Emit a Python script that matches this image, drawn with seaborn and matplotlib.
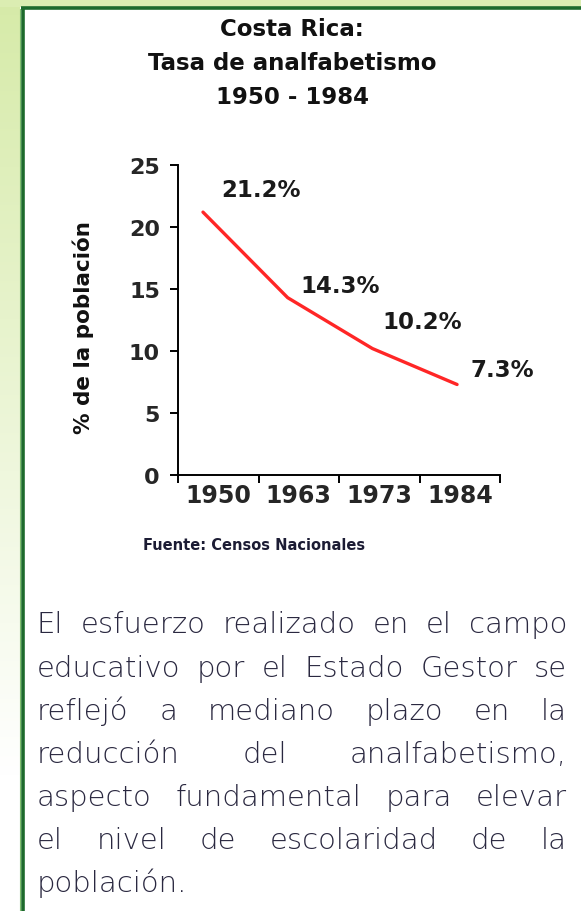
import numpy as np
import pandas as pd
import matplotlib.pyplot as plt
import seaborn as sns

# values
years = ["1950", "1963", "1973", "1984"]
rates = [21.2, 14.3, 10.2, 7.3]
rate_labels = ["21.2%", "14.3%", "10.2%", "7.3%"]
y_ticks = [0, 5, 10, 15, 20, 25]

title_text = "Costa Rica:\nTasa de analfabetismo\n1950 - 1984"
source_text = "Fuente: Censos Nacionales"
paragraph_lines = [
    "El esfuerzo realizado en el campo",
    "educativo por el Estado Gestor se",
    "reflejó a mediano plazo en la",
    "reducción del analfabetismo,",
    "aspecto fundamental para elevar",
    "el nivel de escolaridad de la",
    "población.",
]

df = pd.DataFrame({"year": years, "rate": rates})
df["pos"] = np.arange(len(df))

sns.set_theme(style="ticks")
plt.rcParams["font.family"] = ["DejaVu Sans"]

W, H = 581, 912
fig = plt.figure(figsize=(W / 100, H / 100), dpi=100)
fig.patch.set_facecolor("white")

# background: light green gradient strip on the left and top, then the green frame
bg = fig.add_axes([0, 0, 1, 1], zorder=-5)
img = np.ones((H, W, 3))
green = np.array([0.84, 0.92, 0.66])
fade = np.clip(1 - np.arange(H) / (H * 0.85), 0, 1)[:, None, None]
img[:, :20, :] = 1 - (1 - green) * fade
img[:8, :, :] = np.array([0.86, 0.93, 0.70])
bg.imshow(img, aspect="auto", extent=[0, W, H, 0])
bg.set_xlim(0, W)
bg.set_ylim(H, 0)
bg.plot([22.5, 22.5], [8.5, H], color="#1d6a2c", lw=2.6, solid_capstyle="butt")
bg.plot([21, W], [9, 9], color="#1d6a2c", lw=2.6, solid_capstyle="butt")
bg.plot([19.5, 19.5], [10, H], color="#7fbf6f", lw=0.8)
bg.axis("off")

# main chart
ax = fig.add_axes([178 / W, 1 - 476 / H, 322 / W, 310 / H])
ax.set_facecolor("none")
sns.lineplot(data=df, x="pos", y="rate", color="#ff2626", lw=2.4, ax=ax)

x_lo, x_hi = -0.295, 3.507
ax.set_xlim(x_lo, x_hi)
ax.set_ylim(0, 25)
edges = np.linspace(x_lo, x_hi, len(years) + 1)
ax.set_xticks(edges)
ax.set_xticklabels([])
ax.set_xticks((edges[:-1] + edges[1:]) / 2, minor=True)
ax.set_xticklabels(years, minor=True, fontsize=17, fontweight="bold")
ax.tick_params(axis="x", which="major", length=6, width=1.4, direction="out", color="black")
ax.tick_params(axis="x", which="minor", length=0, pad=6)
ax.set_yticks(y_ticks)
ax.set_yticklabels([str(t) for t in y_ticks], fontsize=16, fontweight="bold")
ax.tick_params(axis="y", length=6, width=1.4, pad=7, color="black")
sns.despine(ax=ax)
for s in ["left", "bottom"]:
    ax.spines[s].set_linewidth(1.4)
    ax.spines[s].set_color("black")
ax.set_xlabel("")
ax.set_ylabel("% de la población", fontsize=15.5, fontweight="bold", color="#111111")
ax.yaxis.set_label_coords(-0.262, 0.48)

offsets = [(58, 23), (52, 12), (50, 27), (45, 15)]
for i, (v, lab) in enumerate(zip(rates, rate_labels)):
    ax.annotate(lab, xy=(i, v), xytext=offsets[i], textcoords="offset pixels",
                ha="center", va="center", fontsize=16.5, fontweight="bold", color="#1a1a1a")

fig.text(292 / W, 1 - 18 / H, title_text, ha="center", va="top", fontsize=16.5,
         fontweight="bold", linespacing=1.62, color="#111111")
fig.text(143 / W, 1 - 546 / H, source_text, ha="left", va="center", fontsize=10.5,
         fontweight="bold", color="#1c1c34")

# justified paragraph, placed word by word
renderer = fig.canvas.get_renderer()
left_px, right_px = 37, 567
baselines = [633, 677, 720, 763, 806, 849, 892]
para_kw = dict(fontsize=21, color="#2a2840", family=["DejaVu Sans"],
               fontweight="light", va="baseline", ha="left")
for k, (line, base) in enumerate(zip(paragraph_lines, baselines)):
    words = line.split()
    texts = [fig.text(0, 1 - base / H, w, **para_kw) for w in words]
    widths = [t.get_window_extent(renderer).width for t in texts]
    if k == len(paragraph_lines) - 1 or len(words) == 1:
        gap = 8
    else:
        gap = (right_px - left_px - sum(widths)) / (len(words) - 1)
    x = left_px
    for t, w in zip(texts, widths):
        t.set_x(x / W)
        x += w + gap

fig.savefig("out.png", dpi=100)
